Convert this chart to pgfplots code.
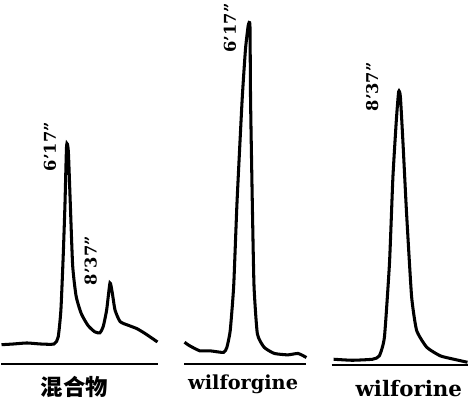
\documentclass[border=0pt]{standalone}
\usepackage{pgfplots}
\pgfplotsset{compat=1.18}
\usepackage{fontspec}
\setmainfont{DejaVu Serif}
\newfontfamily\cjk{Noto Sans CJK SC}
\begin{document}
\begin{tikzpicture}
\begin{axis}[
  scale only axis, width=469pt, height=396pt,
  xmin=0, xmax=469, ymin=-396, ymax=0,
  axis lines=none, clip=false,
]
% baselines
\addplot[black, line width=2pt] coordinates {(8,-360) (162,-360)};
\addplot[black, line width=2pt] coordinates {(188,-360) (308,-360)};
\addplot[black, line width=2pt] coordinates {(333,-361) (467,-361)};
% panel 1: mixture
\addplot[black, line width=3pt, smooth, tension=0.35] coordinates {
(8.3,-340.7) (20,-340) (33.3,-339) (46.7,-340) (60,-340) (64,-333.3) (66.7,-306.7)
(69,-253) (70.7,-203) (72.3,-145) (74,-150) (76,-203) (78.3,-263) (81.7,-293)
(86.7,-310) (93.3,-321.7) (100,-328) (105,-329) (108.3,-323) (111.7,-306.7)
(115,-280) (117.3,-290) (120,-306.7) (125,-318) (133.3,-321.7) (141.7,-325)
(150,-330) (161.7,-338)};
% panel 2: wilforgine
\addplot[black, line width=3pt, smooth, tension=0.3] coordinates {
(188.3,-338.3) (193.3,-341.7) (203.3,-346.7) (213.3,-346.7) (226.7,-348.3)
(230,-343.3) (233.3,-326.7) (236.7,-283) (240,-200) (245,-100) (248.3,-50)
(251,-26.7) (252.7,-26.7) (253.3,-100) (255,-200) (256.7,-283) (260,-330)
(266.7,-343.3) (276.7,-349.3) (290,-350.7) (300,-349.3) (308.3,-353.3)};
% panel 3: wilforine
\addplot[black, line width=3pt, smooth, tension=0.3] coordinates {
(335,-355) (353.3,-356) (373.3,-355) (380,-351.7) (385,-333.3) (390,-260)
(393.3,-176.7) (396.7,-120) (399,-91.7) (400.7,-96.7) (403.3,-143)
(406.7,-210) (411.7,-293) (416.7,-326.7) (426.7,-343.3) (440,-351.7)
(453.3,-355) (466.7,-358)};
% labels
\node[rotate=90, font=\bfseries\fontsize{16}{16}\selectfont] at (axis cs:56,-146) {6’17”};
\node[rotate=90, font=\bfseries\fontsize{16}{16}\selectfont] at (axis cs:96,-258) {8’37”};
\node[rotate=90, font=\bfseries\fontsize{16}{16}\selectfont] at (axis cs:233,-29) {6’17”};
\node[rotate=90, font=\bfseries\fontsize{16}{16}\selectfont] at (axis cs:373,-87) {8’37”};
\node[font=\cjk\bfseries\fontsize{22}{22}\selectfont] at (axis cs:80,-382) {混合物};
\node[font=\bfseries\fontsize{19}{19}\selectfont] at (axis cs:246,-380) {wilforgine};
\node[font=\bfseries\fontsize{21}{21}\selectfont] at (axis cs:409,-384) {wilforine};
\end{axis}
\end{tikzpicture}
\end{document}
